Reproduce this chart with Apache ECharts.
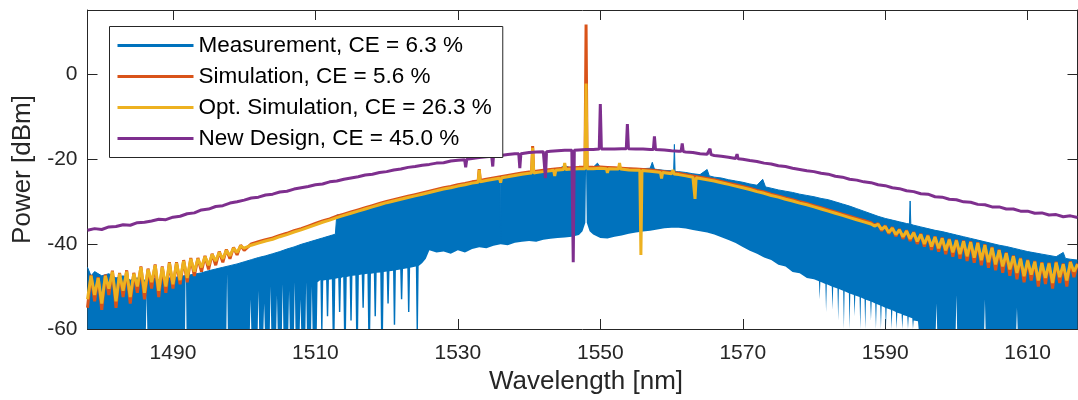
<!DOCTYPE html>
<html><head><meta charset="utf-8">
<script src="https://cdn.jsdelivr.net/npm/echarts@6/dist/echarts.min.js"></script>
<style>html,body{margin:0;padding:0;background:#fff}#c{width:1078px;height:400px}</style>
</head><body><div id="c"></div><script>
// ---------------- DATA ----------------
const seriesNames = ['Measurement, CE = 6.3 %','Simulation, CE = 5.6 %','Opt. Simulation, CE = 26.3 %','New Design, CE = 45.0 %'];
const xTicks = [1490,1510,1530,1550,1570,1590,1610];
const yTicks = [-60,-40,-20,0];

// wavelength sampling grid of the simulations: [start, end, step] (nm)
const simGridSegments = [[1478,1500,0.5],[1501,1588,1],[1588.5,1617,0.5]];
// sampling grid of the new design: [start, end, step] (nm)
const newGridSegments = [[1478,1617,1]];

// Opt. Simulation (dBm) on sim grid
const optSim = [
-53,-47.5,-52,-48,-54,-47.5,-50.5,-46.5,-53.5,-47,-51,-46.5,-52.5,-47,-50,-45.5,-51.5,-46,-49,-45,-51,-45.5,-50,-44.5,-49.5,-44.5,-48.5,-44,-48,-43.5,-46.5,-43.5,-45.5,-43,-45,-42.5,-44,-42,-43.5,-41.5,-42.8,-41,-42,-40.5,-41,
-40.3,-39.8,-39.3,-38.9,-38.3,-37.8,-37.2,-36.7,-36.1,-35.5,
-34.9,-34.4,-33.8,-33.3,-32.8,-32.3,-31.8,-31.3,-30.8,-30.3,
-29.9,-29.5,-29.1,-28.7,-28.3,-27.9,-27.5,-27.1,-26.8,-26.4,
-26.1,-25.7,-25.4,-25.1,-24.8,-24.5,-24.2,-23.9,-23.6,-23.4,
-23.2,-23.0,-22.8,-22.6,-22.5,-22.4,-22.3,-22.3,-22.3,-22.2,
-22.3,-22.4,-22.5,-22.6,-22.7,-22.8,-22.9,-23.1,-23.3,-23.5,
-23.7,-24.0,-24.3,-24.6,-24.9,-25.2,-25.6,-26.0,-26.4,-26.8,
-27.2,-27.7,-28.1,-28.6,-29.0,-29.5,-29.9,-30.4,-30.8,-31.3,
-31.8,-32.3,-32.8,-33.3,-33.8,-34.3,-34.8,-35.3,
-35.8,-35.4,-36.6,-35.9,-37.3,-36.3,-37.8,-36.7,-38.3,-37.0,
-38.8,-37.4,-39.4,-37.8,-40.0,-38.1,-40.6,-38.4,-41.0,-38.7,
-41.5,-39.0,-42.0,-39.2,-42.4,-39.4,-42.9,-39.6,-43.2,-39.8,
-43.8,-40.3,-44.3,-40.9,-44.8,-41.5,-45.3,-42.2,-46.0,-42.9,
-46.8,-43.5,-47.6,-43.9,-47.2,-44.2,-48.6,-44.5,-48.0,-44.6,
-49.2,-44.4,-47.8,-44.8,-48.6,-44.3,-46.5,-44.8
];
// Opt. Simulation narrow features [nm, dBm]
const optSimPeaks = [
[1532.85,-25.5],[1533,-22.6],[1533.15,-25.4],
[1535.85,-24.55],[1536,-25.6],[1536.15,-24.45],
[1540.35,-23.3],[1540.5,-17.4],[1540.65,-23.3],
[1543.45,-22.7],[1543.6,-24],[1543.75,-22.7],
[1544.85,-22.5],[1545,-21],[1545.15,-22.5],
[1547.85,-22.3],[1548,-2.3],[1548.15,-22.3],
[1550.85,-22.3],[1551,-23.3],[1551.15,-22.3],
[1552.55,-22.4],[1552.7,-21.0],[1552.85,-22.4],
[1555.55,-22.7],[1555.7,-42.6],[1555.85,-22.75],
[1558.45,-23.2],[1558.6,-24.6],[1558.75,-23.2],
[1560.05,-23.5],[1560.2,-22.6],[1560.35,-23.55],
[1563.15,-24.35],[1563.3,-29.4],[1563.45,-24.45]
];

// Simulation (dBm) on sim grid
const sim = [
-55,-47.3,-53.5,-47.8,-55.5,-47.2,-52,-46.3,-55,-46.8,-52.5,-46.2,-54,-46.8,-51.5,-45.3,-53,-45.8,-50.5,-44.8,-52.5,-45.3,-51.5,-44.3,-50.5,-44.3,-49.5,-43.8,-49,-43.3,-47.5,-43.3,-46.5,-42.8,-46,-42.3,-45,-41.8,-44.3,-41.3,-43.5,-40.8,-42.6,-40.3,-41.5,
-40.0,-39.5,-39.0,-38.6,-38.0,-37.5,-36.9,-36.4,-35.8,-35.2,
-34.6,-34.1,-33.5,-33.0,-32.5,-32.0,-31.5,-31.0,-30.5,-30.0,
-29.6,-29.2,-28.8,-28.4,-28.0,-27.6,-27.2,-26.8,-26.5,-26.1,
-25.8,-25.4,-25.1,-24.8,-24.5,-24.2,-23.9,-23.6,-23.3,-23.1,
-22.9,-22.7,-22.5,-22.3,-22.2,-22.1,-22.0,-22.0,-22.0,-21.9,
-22.0,-22.1,-22.2,-22.3,-22.4,-22.5,-22.6,-22.8,-23.0,-23.2,
-23.4,-23.7,-24.0,-24.3,-24.6,-24.9,-25.3,-25.7,-26.1,-26.5,
-26.9,-27.4,-27.8,-28.3,-28.7,-29.2,-29.6,-30.1,-30.5,-31.0,
-31.5,-32.0,-32.5,-33.0,-33.5,-34.0,-34.5,-35.0,
-35.6,-35.2,-36.9,-35.7,-37.6,-36.1,-38.2,-36.5,-38.8,-36.8,
-39.3,-37.2,-40.0,-37.6,-40.6,-37.9,-41.4,-38.2,-41.8,-38.5,
-42.4,-38.8,-43.0,-39.0,-43.5,-39.2,-44.0,-39.4,-44.4,-39.6,
-45.0,-40.1,-45.6,-40.7,-46.2,-41.3,-46.8,-42.0,-47.5,-42.7,
-48.3,-43.3,-49.0,-43.7,-48.6,-44.0,-50.0,-44.3,-49.4,-44.4,
-50.5,-44.2,-49.2,-44.6,-50.0,-44.1,-47.8,-44.6
];
const simPeaks = [
[1532.85,-25.2],[1533,-22.4],[1533.15,-25.1],
[1540.35,-23.1],[1540.5,-17.0],[1540.65,-23.1],
[1547.85,-22.0],[1548,11.6],[1548.15,-22.0]
];

// New Design (dBm) on 1 nm grid 1478..1617
const newDesign = [
-36.8,-36.4,-36.6,-36.0,-35.9,-35.5,-35.6,-35.0,-34.9,-34.6,-34.2,-34.3,
-33.7,-33.5,-32.9,-32.7,-32.0,-31.8,-31.2,-31.0,-30.4,-30.1,
-29.7,-29.2,-29.0,-28.5,-28.3,-27.8,-27.6,-27.1,-26.8,-26.5,
-26.1,-25.9,-25.4,-25.2,-24.8,-24.5,-24.2,-23.8,-23.6,-23.2,
-23.0,-22.6,-22.4,-22.0,-21.8,-21.5,-21.3,-21.0,-20.9,-20.5,
-20.3,-20.1,-19.9,-19.7,-19.5,-19.3,-19.2,-19.0,-18.8,-18.7,
-18.5,-18.4,-18.3,-18.2,-18.1,-18.0,-18.0,-17.9,-17.8,-17.8,
-17.7,-17.7,-17.7,-17.6,-17.6,-17.7,-17.7,-17.8,-17.9,-17.9,
-18.1,-18.2,-18.4,-18.5,-18.8,-18.9,-19.2,-19.4,-19.6,-19.9,
-20.1,-20.4,-20.6,-21.0,-21.2,-21.6,-21.8,-22.2,-22.5,-22.8,
-23.0,-23.4,-23.6,-24.1,-24.3,-24.8,-25.0,-25.4,-25.6,-26.1,
-26.3,-26.8,-27.0,-27.5,-27.7,-28.2,-28.3,-28.9,-29.0,-29.5,
-29.6,-30.1,-30.2,-30.7,-30.8,-31.3,-31.3,-31.8,-31.8,-32.3,
-32.3,-32.8,-32.7,-33.2,-33.1,-33.6,-33.4,-33.8
];
const newDesignPeaks = [
[1530.95,-20.2],[1531.1,-22.0],[1531.25,-20.1],
[1534.75,-19.4],[1534.9,-21.8],[1535.05,-19.3],
[1538.55,-18.8],[1538.7,-22.2],[1538.85,-18.8],
[1542.15,-18.3],[1542.3,-24.5],[1542.45,-18.3],
[1546.05,-18.0],[1546.2,-44.3],[1546.35,-18.0],
[1549.85,-17.7],[1550,-7.1],[1550.15,-17.7],
[1553.65,-17.6],[1553.8,-11.8],[1553.95,-17.6],
[1557.45,-17.8],[1557.6,-14.7],[1557.75,-17.8],
[1561.35,-18.2],[1561.5,-16.4],[1561.65,-18.3],
[1565.25,-18.9],[1565.4,-17.6],[1565.55,-19.0],
[1569.05,-19.9],[1569.2,-18.9],[1569.35,-20.0]
];

// Measurement: upper envelope [nm, dBm]
const measUpper = [
[1478,-45.5],[1478.5,-47.5],[1479,-46.5],[1480,-47.5],[1481,-47],[1482,-48],[1483,-47.5],[1484,-48.5],[1485,-48],[1486,-48.5],[1487,-47.8],[1488,-48.5],[1489,-48],[1490,-48],
[1491,-47.6],[1492,-47.4],[1493,-47.1],[1494,-46.8],[1495,-46.3],[1496,-45.9],[1497,-45.5],[1498,-45.1],[1499,-44.7],[1500,-44.2],
[1501,-43.7],[1502,-43.2],[1503,-42.8],[1504,-42.3],[1505,-41.8],[1506,-41.2],[1507,-40.7],[1508,-40.1],[1509,-39.6],[1510,-39.1],
[1511,-38.6],[1512,-38.1],[1512.8,-37.7],[1513,-33.2],[1514,-33.1],[1515,-32.6],[1516,-32.1],[1517,-31.6],[1518,-31.1],[1519,-30.6],[1520,-30.1],
[1521,-29.7],[1522,-29.3],[1523,-28.9],[1524,-28.5],[1525,-28.1],[1526,-27.7],[1527,-27.3],[1528,-26.9],[1529,-26.6],[1530,-26.2],
[1531,-25.9],[1532,-25.5],[1533,-25.2],[1534,-24.9],[1535,-24.6],[1535.95,-24.3],[1536,-40.0],[1536.05,-24.3],[1537,-24.0],[1538,-23.7],[1539,-23.4],[1540,-23.2],
[1541,-23.0],[1542,-22.8],[1543,-22.6],[1544,-22.4],[1545,-21.6],[1546,-22.2],[1547,-22.1],[1548,-22.1],[1549,-22.0],[1549.6,-21.0],[1550,-22.0],
[1551,-22.0],[1552,-22.1],[1553,-22.2],[1554,-22.2],[1555,-22.3],[1556,-22.3],[1557,-22.2],[1557.3,-20.8],[1557.6,-22.4],[1558,-22.5],[1559,-22.7],[1560,-22.8],
[1560.3,-22.9],[1560.4,-16.6],[1560.5,-23.0],[1561,-23.0],[1562,-23.2],[1563,-23.5],[1564,-23.7],[1565,-22.5],[1565.3,-24.0],[1566,-24.3],[1567,-24.5],[1568,-24.9],[1569,-25.2],[1570,-25.5],
[1571,-25.9],[1572,-26.2],[1572.8,-24.8],[1573.2,-26.6],[1574,-26.9],[1575,-27.3],[1576,-27.6],[1577,-27.9],[1578,-28.3],[1579,-28.6],[1580,-28.9],
[1581,-29.3],[1582,-29.6],[1583,-30.1],[1584,-30.6],[1585,-31.1],[1586,-31.7],[1587,-32.3],[1588,-32.9],[1589,-33.5],[1590,-34.0],
[1591,-34.4],[1592,-34.8],[1593,-35.2],[1593.4,-35.3],[1593.5,-29.9],[1593.6,-35.4],[1594,-35.6],[1595,-36.0],[1596,-36.4],[1597,-36.8],[1598,-37.1],[1599,-37.5],[1600,-37.9],
[1601,-38.3],[1602,-38.7],[1603,-39.1],[1604,-39.5],[1605,-39.9],[1606,-40.3],[1607,-40.6],[1608,-41.0],[1609,-41.4],[1610,-41.8],
[1611,-42.1],[1612,-42.4],[1613,-42.7],[1614,-43.0],[1615,-42.0],[1615.3,-43.4],[1616,-43.6],[1617,-43.8]
];
// Measurement: lower envelope [nm, dBm]
const measLower = [
[1478,-60],[1486.2,-60],[1486.3,-52],[1486.4,-60],[1491.7,-60],[1491.8,-44],[1491.9,-60],[1497.5,-60],[1497.6,-47],[1497.7,-60],
[1500.8,-60],[1500.9,-53],[1501,-60],[1501.9,-60],[1502,-51],[1502.1,-60],[1502.7,-60],[1502.8,-54],[1502.9,-60],[1503.6,-60],[1503.7,-50],[1503.8,-60],
[1504.5,-60],[1504.6,-52],[1504.7,-60],[1505.3,-60],[1505.4,-49.5],[1505.5,-60],[1506.2,-60],[1506.3,-51],[1506.4,-60],[1507,-60],[1507.1,-49],[1507.2,-60],
[1507.8,-60],[1507.9,-53],[1508,-60],[1508.6,-60],[1508.7,-49],[1508.8,-60],[1509.4,-60],[1509.5,-50],[1509.6,-60],
[1510.2,-60],[1510.3,-49],[1510.7,-48.5],[1510.8,-60],[1511.0,-60],[1511.1,-48.6],[1511.5,-48.5],[1511.6,-57],[1511.8,-57],[1511.9,-48.4],
[1512.3,-48.3],[1512.4,-60],[1512.7,-60],[1512.8,-48.2],[1513.2,-48],[1513.3,-56],[1513.5,-56],[1513.6,-48],[1513.9,-47.8],[1514.0,-60],[1514.3,-60],[1514.4,-47.8],
[1514.8,-47.6],[1514.9,-58],[1515.1,-58],[1515.2,-47.5],[1515.6,-47.4],[1515.7,-60],[1516.0,-60],[1516.1,-47.3],[1516.5,-47.2],[1516.6,-55],[1516.8,-55],[1516.9,-47.1],
[1517.3,-47],[1517.4,-60],[1517.7,-60],[1517.8,-47],[1518.2,-46.9],[1518.3,-57],[1518.5,-57],[1518.6,-46.8],[1519.1,-46.7],[1519.2,-60],[1519.5,-60],[1519.6,-46.6],
[1520.0,-46.5],[1520.1,-54],[1520.3,-54],[1520.4,-46.4],[1520.9,-46.3],[1521.0,-59],[1521.2,-59],[1521.3,-46.2],[1521.9,-46],[1522.0,-53],[1522.2,-53],[1522.3,-45.9],
[1522.9,-45.7],[1523.0,-56],[1523.2,-56],[1523.3,-45.6],[1524.1,-45.3],[1524.2,-60],[1524.4,-60],[1524.5,-45.2],[1525,-44.5],[1525.5,-43.5],[1526,-41.5],
[1527,-42],[1528,-41.8],[1529,-42.3],[1530,-41.5],[1531,-42],[1532,-41.2],[1533,-40.8],
[1534,-41],[1535,-40.4],[1536,-40.1],[1537,-40.3],[1538,-39.7],[1539,-39.5],[1540,-39.3],[1541,-39.5],[1542,-39],[1543,-38.8],
[1544,-38.6],[1545,-38.5],[1546,-38.3],[1547,-37.9],[1547.5,-37],[1547.9,-35],[1548.0,-22.4],[1548.1,-35],[1548.5,-37],[1549,-37.8],[1550,-38.6],
[1551,-38.7],[1552,-38.3],[1553,-38],[1554,-37.6],[1555,-37.3],[1556,-37.1],[1557,-36.9],[1558,-36.6],[1559,-36.3],[1560,-36.2],
[1561,-36.2],[1562,-36.4],[1563,-36.7],[1564,-37],[1565,-37.3],[1566,-37.8],[1567,-38.4],[1568,-39.1],[1569,-39.8],[1570,-40.7],
[1571,-41.6],[1572,-42.3],[1573,-43.2],[1574,-43.8],[1575,-44.9],[1576,-45.3],[1577,-46.6],[1578,-46.9],[1579,-48],[1580,-48.3],
[1580.7,-48.8],[1580.8,-53],[1580.9,-48.9],[1581.6,-49.4],[1581.7,-56],[1581.8,-49.5],[1582.5,-50],[1582.6,-55.5],[1582.7,-50.1],[1583.3,-50.5],[1583.4,-58],[1583.5,-50.6],
[1584.1,-51],[1584.2,-60],[1584.3,-51.1],[1584.9,-51.6],[1585,-60],[1585.1,-51.7],[1585.6,-52],[1585.7,-57],[1585.8,-52.1],[1586.4,-52.5],[1586.5,-60],[1586.6,-52.6],
[1587.1,-53],[1587.2,-60],[1587.3,-53.1],[1587.9,-53.5],[1588,-58],[1588.1,-53.6],[1588.6,-54],[1588.7,-60],[1588.8,-54.1],[1589.3,-54.5],[1589.4,-60],[1589.5,-54.6],
[1590,-55],[1590.1,-60],[1590.2,-55.1],[1590.8,-55.5],[1590.9,-60],[1591,-55.6],[1591.5,-56],[1591.6,-60],[1591.7,-56.2],[1592.3,-56.5],[1592.4,-60],[1592.5,-56.7],
[1593.1,-57],[1593.2,-60],[1593.3,-57.2],[1593.8,-57.5],[1593.9,-60],[1594,-58],[1594.6,-58.2],[1594.7,-60],[1595.3,-60],
[1597.1,-60],[1597.2,-54],[1597.3,-60],[1599.9,-60],[1600,-52],[1600.1,-60],[1603.9,-60],[1604,-53],[1604.1,-60],[1608.4,-60],[1608.5,-55],[1608.6,-60],[1617,-60]
];

// ---------------- BUILD ----------------
function buildGrid(segs){
  const out=[];
  segs.forEach(function(s){ for(let x=s[0]; x<=s[1]+1e-9; x+=s[2]) out.push(Math.round(x*100)/100); });
  return out;
}
function merge(xs, ys, peaks){
  const px = new Set(peaks.map(p=>p[0]));
  const pts = xs.map((x,i)=>[x, ys[i]]).filter(p=>!px.has(p[0]));
  return pts.concat(peaks).sort((a,b)=>a[0]-b[0]);
}
const simGrid = buildGrid(simGridSegments);
const newGrid = buildGrid(newGridSegments);
const simData = merge(simGrid, sim, simPeaks);
const optData = merge(simGrid, optSim, optSimPeaks);
const newData = merge(newGrid, newDesign, newDesignPeaks);

const FONT = "'Liberation Sans', Arial, Helvetica, sans-serif";
const AX = '#262626';
const C = ['#0072BD','#D95319','#EDB120','#7E2F8E'];

function axisCommon(){
  return {
    type:'value', axisLine:{show:true, onZero:false, lineStyle:{color:AX, width:1}},
    splitLine:{show:false}
  };
}
const chart = echarts.init(document.getElementById('c'), null, {renderer:'canvas'});
chart.setOption({
  animation:false,
  backgroundColor:'#fff',
  grid:{left:87.5, top:10, width:990, height:322.5, containLabel:false},
  legend:{
    orient:'vertical', left:109.5, top:26.5, padding:[7,11,7,8], itemGap:7,
    itemWidth:76, itemHeight:3, icon:'rect', backgroundColor:'#fff', borderColor:AX, borderWidth:1,
    selectedMode:false,
    textStyle:{fontSize:22.5, color:'#000', fontFamily:FONT, lineHeight:24},
    data:seriesNames
  },
  xAxis:[
    Object.assign(axisCommon(), {
      position:'bottom', min:1478, max:1617,
      axisTick:{show:true, inside:true, length:10, customValues:xTicks, lineStyle:{color:AX}},
      axisLabel:{show:true, customValues:xTicks, color:AX, fontSize:21, fontFamily:FONT, margin:14,
                 formatter:function(v){return String(v);}},
      name:'Wavelength [nm]', nameLocation:'middle', nameGap:40,
      nameTextStyle:{fontSize:26, color:AX, fontFamily:FONT, padding:[0,0,0,7]}
    }),
    Object.assign(axisCommon(), {
      position:'top', min:1478, max:1617,
      axisTick:{show:true, inside:true, length:10, customValues:xTicks, lineStyle:{color:AX}},
      axisLabel:{show:false}
    })
  ],
  yAxis:[
    Object.assign(axisCommon(), {
      position:'left', min:-60, max:15,
      axisTick:{show:true, inside:true, length:10, customValues:yTicks, lineStyle:{color:AX}},
      axisLabel:{show:true, customValues:yTicks, color:AX, fontSize:21, fontFamily:FONT, margin:10,
                 formatter:function(v){return String(v);}},
      name:'Power [dBm]', nameLocation:'middle', nameGap:51,
      nameTextStyle:{fontSize:26, color:AX, fontFamily:FONT}
    }),
    Object.assign(axisCommon(), {
      position:'right', min:-60, max:15,
      axisTick:{show:true, inside:true, length:10, customValues:yTicks, lineStyle:{color:AX}},
      axisLabel:{show:false}
    })
  ],
  series:[
    {
      type:'custom', name:'measurement-band', xAxisIndex:0, yAxisIndex:0, silent:true, clip:true,
      data:[[1548,-40]],
      renderItem:function(params, api){
        const pts=[];
        for(let i=0;i<measUpper.length;i++) pts.push(api.coord(measUpper[i]));
        for(let i=measLower.length-1;i>=0;i--) pts.push(api.coord(measLower[i]));
        return {type:'polygon', shape:{points:pts}, style:{fill:C[0]}};
      }
    },
    {type:'line', name:seriesNames[0], data:measUpper, showSymbol:false, symbol:'none',
     lineStyle:{color:C[0], width:1}, itemStyle:{color:C[0]}, clip:true},
    {type:'line', name:seriesNames[1], data:simData, showSymbol:false, symbol:'none',
     lineStyle:{color:C[1], width:3}, itemStyle:{color:C[1]}, clip:true},
    {type:'line', name:seriesNames[2], data:optData, showSymbol:false, symbol:'none',
     lineStyle:{color:C[2], width:3}, itemStyle:{color:C[2]}, clip:true},
    {type:'line', name:seriesNames[3], data:newData, showSymbol:false, symbol:'none',
     lineStyle:{color:C[3], width:3}, itemStyle:{color:C[3]}, clip:true}
  ]
});
</script></body></html>
